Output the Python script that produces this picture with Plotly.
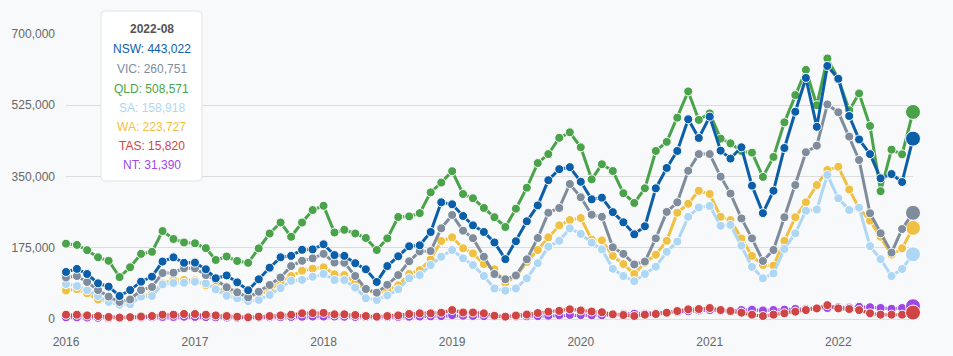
import plotly.graph_objects as go

# ---------------- data ----------------
months = [f"{y}-{m:02d}-01" for y in range(2016, 2023) for m in range(1, 13)][:80]

NSW = [115500, 123000, 110500, 87600, 79400, 56500, 71000, 91700, 104000, 141000, 151500, 138000,
       138500, 122000, 100000, 107000, 90000, 70500, 97500, 126000, 151500, 155000, 170000, 171000,
       183500, 157000, 155000, 137000, 122000, 91000, 130000, 154000, 178600, 181000, 213700, 286600,
       281700, 253000, 230000, 213700, 188000, 147000, 191000, 240000, 279000, 341000, 368000, 373000,
       337000, 294000, 298000, 262500, 237500, 208000, 227700, 321000, 371000, 412700, 490500, 444600,
       497000, 413500, 394000, 421700, 327500, 260000, 315000, 420000, 509000, 592000, 472000, 621500,
       590000, 498600, 441000, 405000, 345600, 356000, 336500, 443022]
VIC = [102000, 105600, 91000, 71000, 55000, 41800, 48000, 71000, 78600, 113000, 113700, 124500,
       124500, 108000, 96000, 78000, 65500, 53000, 67000, 83500, 102000, 130000, 143000, 149000,
       160000, 138500, 138000, 105600, 73700, 64700, 84000, 108000, 141700, 166000, 167000, 222700,
       255500, 217000, 198500, 153000, 110500, 97500, 107000, 146600, 199000, 261000, 272700, 331600,
       299000, 256000, 251000, 176000, 160000, 134000, 141000, 198000, 263000, 286600, 364000, 405000,
       405000, 349600, 308000, 247000, 198000, 142500, 169500, 250000, 329000, 409500, 425700, 527000,
       507700, 448000, 390600, 259600, 210500, 163000, 221000, 260751]
QLD = [185000, 182000, 169000, 151500, 143000, 103000, 127000, 160000, 165000, 216000, 196500, 188000,
       186000, 174000, 145000, 153500, 142500, 138000, 173500, 210000, 237000, 202000, 237000, 267500,
       278000, 212500, 219000, 210000, 199000, 169500, 198000, 250500, 252000, 260000, 311000, 335000,
       363000, 307000, 296500, 272700, 250000, 226000, 271000, 322500, 383000, 405000, 445000, 458500,
       421700, 343000, 380000, 363500, 309000, 285000, 321000, 412700, 435000, 494500, 559000, 489000,
       505000, 443000, 431500, 412700, 408600, 349000, 398000, 483000, 550000, 612000, 525000, 640000,
       590000, 513000, 554000, 474000, 314000, 416000, 404500, 508571]
SA = [86000, 81000, 71000, 56500, 42000, 35000, 36000, 55000, 56500, 85000, 88500, 89000,
      91500, 87600, 73000, 57000, 51000, 44000, 47000, 59000, 76000, 94000, 96000, 104000,
      110500, 95800, 95800, 77000, 51000, 46700, 58000, 73000, 100000, 108000, 132600, 153000,
      169500, 149000, 132600, 105600, 75000, 69600, 75000, 100000, 137000, 177600, 192000, 222700,
      209000, 187500, 171000, 123500, 105600, 93000, 110500, 128500, 165000, 190000, 251000, 274000,
      277600, 229000, 231000, 180000, 128000, 100000, 112000, 172000, 210500, 266000, 269000, 353700,
      296500, 267700, 273500, 179000, 147000, 105600, 122800, 158918]
WA = [70000, 73000, 63000, 48000, 43000, 37000, 42000, 57000, 61000, 88000, 95000, 96000,
      95000, 83000, 79000, 66000, 62000, 56000, 60000, 70000, 91700, 105600, 118700, 123600,
      127000, 110000, 108000, 89000, 71000, 63000, 71000, 82700, 110500, 120000, 146600, 191600,
      200700, 173600, 161000, 135000, 122000, 89000, 105000, 140000, 169500, 200700, 230000, 243000,
      248000, 195000, 193000, 155000, 135000, 110500, 138000, 158000, 192000, 261000, 283000, 315000,
      307000, 251000, 243000, 198000, 155000, 132600, 131000, 192000, 250000, 286600, 329000, 366000,
      374000, 318000, 272000, 241500, 202000, 158000, 173600, 223727]
TAS = [10600, 10600, 8900, 7300, 5000, 3500, 4500, 6000, 7300, 10600, 10600, 12300,
       12300, 10600, 8900, 7300, 5700, 4100, 5700, 7300, 8900, 10600, 13900, 14500,
       15000, 11500, 11500, 9800, 7300, 5700, 7300, 8900, 12300, 13900, 13900, 15500,
       22000, 16000, 16000, 13900, 8000, 5700, 8500, 11000, 14700, 18000, 20000, 23700,
       21000, 18400, 16600, 11500, 9800, 7400, 10600, 12300, 15500, 19600, 23700, 24500,
       27000, 22000, 19600, 15500, 10600, 7300, 10600, 14000, 18000, 22000, 26000, 34000,
       26000, 24500, 22000, 14000, 10600, 10600, 10600, 15820]
NT = [4000, 4000, 3500, 3000, 2500, 2500, 3000, 3500, 4000, 5000, 5000, 5500,
      5000, 4500, 4000, 3500, 3000, 3000, 3500, 4000, 4500, 5000, 5500, 6000,
      6000, 6000, 5500, 5000, 4500, 4000, 4500, 5000, 5500, 6000, 6500, 7000,
      9000, 8000, 7500, 7000, 6500, 6000, 6000, 6500, 7000, 8000, 9000, 10000,
      9500, 9000, 9000, 10000, 12000, 13000, 13000, 14000, 15000, 17000, 19000, 21000,
      22000, 20000, 20000, 22000, 23000, 21000, 22000, 23000, 25000, 25000, 26000, 27000,
      29000, 28000, 30000, 29000, 27000, 25000, 27000, 31390]

series_names = ["NSW", "VIC", "QLD", "SA", "WA", "TAS", "NT"]
series_values = [NSW, VIC, QLD, SA, WA, TAS, NT]
y_ticks = [0, 175000, 350000, 525000, 700000]
tooltip_title = "2022-08"

# ---------------- style ----------------
colors = {"NSW": "#0b5ea8", "VIC": "#7e8c9c", "QLD": "#4aa34a", "SA": "#aed6f5",
          "WA": "#f0c043", "TAS": "#cf4545", "NT": "#9c48e6"}
FONT = "Liberation Sans, Arial, sans-serif"
BG = "#f8f9fa"
W, H = 953, 356
ML, MR, MT, MB = 66, 40, 34, 37
PW, PH = W - ML - MR, H - MT - MB

fig = go.Figure()
# draw in reverse so NSW ends on top
for name, vals in reversed(list(zip(series_names, series_values))):
    n = len(vals)
    sizes = [9] * (n - 1) + [15]
    fig.add_trace(go.Scatter(
        x=months, y=vals, name=name, mode="lines+markers",
        line=dict(color=colors[name], width=3),
        marker=dict(size=sizes, color=colors[name], opacity=1,
                    line=dict(color="white", width=1)),
        cliponaxis=False, hoverinfo="skip", showlegend=False))

def px_x(p):
    return (p - ML) / PW

def px_y(p):
    return (H - MB - p) / PH

# tooltip box (rounded rectangle)
bx0, bx1, by0, by1, r = 101, 202, 11, 181, 4
path = (f"M {px_x(bx0 + r)} {px_y(by0)} L {px_x(bx1 - r)} {px_y(by0)} "
        f"Q {px_x(bx1)} {px_y(by0)} {px_x(bx1)} {px_y(by0 + r)} "
        f"L {px_x(bx1)} {px_y(by1 - r)} Q {px_x(bx1)} {px_y(by1)} {px_x(bx1 - r)} {px_y(by1)} "
        f"L {px_x(bx0 + r)} {px_y(by1)} Q {px_x(bx0)} {px_y(by1)} {px_x(bx0)} {px_y(by1 - r)} "
        f"L {px_x(bx0)} {px_y(by0 + r)} Q {px_x(bx0)} {px_y(by0)} {px_x(bx0 + r)} {px_y(by0)} Z")
fig.add_shape(type="path", path=path, xref="paper", yref="paper",
              fillcolor="white", line=dict(color="#e3e3e3", width=1), layer="above")

cx = (bx0 + bx1) / 2
annotations = [dict(x=px_x(cx), y=px_y(29), xref="paper", yref="paper", showarrow=False,
                    text=f"<b>{tooltip_title}</b>", font=dict(family=FONT, size=12, color="#555555"),
                    xanchor="center", yanchor="middle")]
line_y = [49.5, 69, 88.5, 107.5, 126.5, 145.5, 164.5]
for name, vals, ly in zip(series_names, series_values, line_y):
    annotations.append(dict(x=px_x(cx), y=px_y(ly), xref="paper", yref="paper", showarrow=False,
                            text=f"{name}: {vals[-1]:,}",
                            font=dict(family=FONT, size=12, color=colors[name]),
                            xanchor="center", yanchor="middle"))

fig.update_layout(
    width=W, height=H,
    margin=dict(l=ML, r=MR, t=MT, b=MB, autoexpand=False),
    paper_bgcolor=BG, plot_bgcolor=BG,
    font=dict(family=FONT, size=12, color="#666666"),
    showlegend=False,
    annotations=annotations,
    xaxis=dict(type="date", range=[months[0], months[-1]], tick0="2016-01-01", dtick="M12",
               tickformat="%Y", showgrid=False, zeroline=False, showline=False, ticks="",
               automargin=False,
               ticklabelstandoff=14, tickfont=dict(size=12, color="#666666")),
    yaxis=dict(range=[0, 700000], tickvals=y_ticks, tickformat=",", showgrid=True,
               gridcolor="#dcdcdc", gridwidth=1, zeroline=True, zerolinecolor="#dcdcdc",
               zerolinewidth=1, showline=False, ticks="", ticklabelstandoff=10,
               automargin=False,
               tickfont=dict(size=12, color="#666666")),
)

fig.write_html(
    "out.html",
    config={"displayModeBar": False},
    post_script="document.body.style.margin='0';document.body.style.background='" + BG + "';",
)
